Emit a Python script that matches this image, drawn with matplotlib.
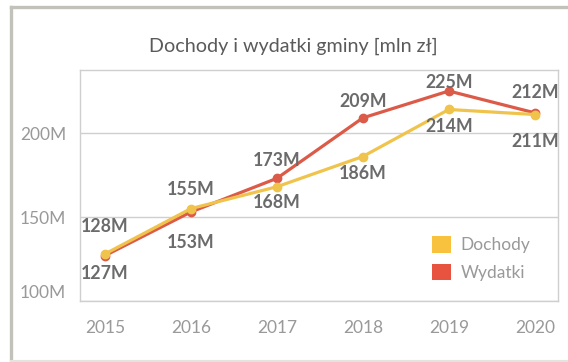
import matplotlib.pyplot as plt
from matplotlib.patches import Patch
from matplotlib.lines import Line2D

plt.rcParams['font.family'] = ['Lato', 'DejaVu Sans']

lata = [2015, 2016, 2017, 2018, 2019, 2020]
dochody = [128, 155, 168, 186, 214, 211]
wydatki = [127, 153, 173, 209, 225, 212]
y_ticks = [100, 150, 200]

kolor_dochody = '#F0C44C'
kolor_wydatki = '#DC5A48'

# odstęp etykiet od punktu (w pikselach): wyższa wartość nad, niższa pod
odstep_gora = [27, 19, 18, 16, 8, 20]
odstep_dol = [18, 31, 16, 17, 17, 27]

fig = plt.figure(figsize=(5.68, 3.62), dpi=100)
ax = fig.add_axes([80 / 568, 61 / 362, 478 / 568, 231 / 362])

ax.plot(lata, wydatki, color=kolor_wydatki, lw=2.3, marker='o', ms=6,
        solid_capstyle='round', zorder=3)
ax.plot(lata, dochody, color=kolor_dochody, lw=2.3, marker='o', ms=6,
        solid_capstyle='round', zorder=4)

px = 72 / 100
for i, rok in enumerate(lata):
    hi = max(dochody[i], wydatki[i])
    lo = min(dochody[i], wydatki[i])
    ax.annotate(f'{hi}M', (rok, hi), xytext=(0, odstep_gora[i] * px),
                textcoords='offset points', ha='center', va='center',
                fontsize=12.8, fontweight='bold', color='#6b6b6b', zorder=5)
    ax.annotate(f'{lo}M', (rok, lo), xytext=(0, -odstep_dol[i] * px),
                textcoords='offset points', ha='center', va='center',
                fontsize=12.8, fontweight='bold', color='#6b6b6b', zorder=5)

ax.set_xlim(2014.71, 2020.27)
ax.set_ylim(100, 237.5)
ax.set_xticks(lata)
ax.set_yticks(y_ticks)
ax.set_yticklabels([f'{v}M' for v in y_ticks])
ax.get_yticklabels()[0].set_va('bottom')
ax.yaxis.grid(True, color='#cfcfcf', lw=1)
ax.set_axisbelow(True)
ax.tick_params(length=0, labelsize=12.5, labelcolor='#999999')
ax.tick_params(axis='x', pad=14)
ax.tick_params(axis='y', pad=10)
for s in ax.spines.values():
    s.set_color('#cfcfcf')
    s.set_linewidth(1)

uchwyty = [Patch(facecolor='#F8C23E', edgecolor='none', label='Dochody'),
           Patch(facecolor='#E8533F', edgecolor='none', label='Wydatki')]
ax.legend(handles=uchwyty, loc='lower right', bbox_to_anchor=(0.96, 0.05),
          frameon=False, fontsize=12.5, labelcolor='#999999',
          handlelength=1.1, handleheight=1.05, handletextpad=0.55,
          labelspacing=0.6, borderpad=0)

fig.text(0.517, 1 - 46 / 362, 'Dochody i wydatki gminy [mln zł]',
         ha='center', va='center', fontsize=14.2, color='#5a5a5a')

# ramka wokół wykresu
fig.add_artist(Line2D([10.5 / 568, 1.0], [1 - 6.5 / 362] * 2,
                      transform=fig.transFigure, color='#c2c2ba', lw=2.4))
fig.add_artist(Line2D([10.5 / 568] * 2, [1.5 / 362, 1 - 6.5 / 362],
                      transform=fig.transFigure, color='#c2c2ba', lw=2.4))
fig.add_artist(Line2D([10.5 / 568, 1.0], [1.5 / 362] * 2,
                      transform=fig.transFigure, color='#e4e4de', lw=1.5))

fig.savefig('out.png', dpi=100, facecolor='white')
